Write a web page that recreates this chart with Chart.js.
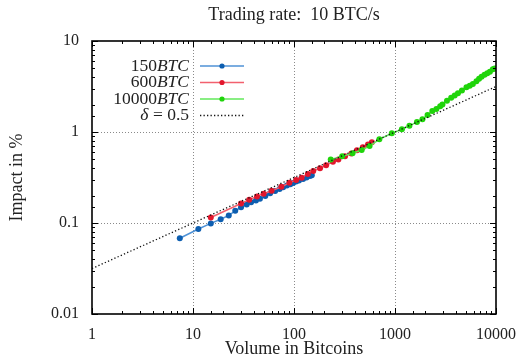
<!DOCTYPE html>
<html>
<head>
<meta charset="utf-8">
<script src="https://cdn.jsdelivr.net/npm/chart.js@4"></script>
<style>
  html, body { margin: 0; padding: 0; background: #fff; }
</style>
</head>
<body>
<canvas id="grafica" width="522" height="363"></canvas>
<script>
// Datos (volumen en BTC, impacto en %)
const vol150 = [7.4, 11.3, 15, 18.8, 22.6, 26.2, 29.9, 34, 37.6, 42, 46, 52, 58, 65, 72, 78, 85, 92, 98, 105, 112, 123, 133, 144, 150];
const imp150 = [0.068, 0.086, 0.099, 0.11, 0.121, 0.136, 0.149, 0.16, 0.169, 0.177, 0.185, 0.198, 0.212, 0.225, 0.237, 0.247, 0.258, 0.267, 0.275, 0.285, 0.293, 0.305, 0.316, 0.328, 0.335];

const vol600 = [15, 29.9, 36, 43, 50, 60, 75, 90, 105, 119, 137, 155, 181, 208, 243, 275, 320, 370, 420, 480, 540, 590];
const imp600 = [0.115, 0.164, 0.18, 0.196, 0.21, 0.226, 0.25, 0.277, 0.297, 0.315, 0.346, 0.373, 0.40, 0.43, 0.47, 0.50, 0.54, 0.58, 0.63, 0.68, 0.73, 0.77];

const vol10000 = [231, 300, 380, 468, 560, 700, 930, 1170, 1390, 1650, 1870, 2100, 2340, 2570, 2800, 2950, 3270, 3600, 3900, 4200, 4600, 5100, 5500, 5900, 6400, 6800, 7200, 7700, 8200, 8700, 9300, 9700];
const imp10000 = [0.50, 0.54, 0.585, 0.634, 0.70, 0.83, 0.97, 1.07, 1.17, 1.29, 1.38, 1.54, 1.70, 1.79, 1.92, 2.01, 2.21, 2.38, 2.52, 2.67, 2.86, 3.10, 3.22, 3.37, 3.62, 3.85, 4.05, 4.25, 4.42, 4.60, 4.90, 5.00];

// recta delta = 0.5
const volDelta = [1, 10000];
const impDelta = [0.0316, 3.16];

const xTickLabels = ['1', '10', '100', '1000', '10000'];
const yTickLabels = ['0.01', '0.1', '1', '10'];

const serif = "'Liberation Serif', 'DejaVu Serif', serif";

function puntos(xs, ys) {
  return xs.map((x, i) => ({ x: x, y: ys[i] }));
}

function esMayor(v) {
  const l = Math.log10(v);
  return Math.abs(l - Math.round(l)) < 1e-6;
}

function etiqueta(v, lista) {
  if (!esMayor(v)) return '';
  const s = lista.find(t => Math.abs(parseFloat(t) - v) < 1e-9 * Math.max(1, v));
  return s || '';
}

// leyenda, marco, rejilla, titulos
const marcoPlugin = {
  id: 'marco',
  beforeDatasetsDraw(chart) {
    const { ctx, chartArea: a, scales } = chart;
    ctx.save();
    ctx.strokeStyle = '#8a8a8a';
    ctx.lineWidth = 1;
    ctx.setLineDash([1, 2]);
    scales.x.ticks.forEach(t => {
      if (!esMayor(t.value)) return;
      const px = Math.round(scales.x.getPixelForValue(t.value)) + 0.5;
      if (px <= a.left + 1 || px >= a.right - 1) return;
      ctx.beginPath(); ctx.moveTo(px, a.top); ctx.lineTo(px, a.bottom); ctx.stroke();
    });
    scales.y.ticks.forEach(t => {
      if (!esMayor(t.value)) return;
      const py = Math.round(scales.y.getPixelForValue(t.value)) + 0.5;
      if (py <= a.top + 1 || py >= a.bottom - 1) return;
      ctx.beginPath(); ctx.moveTo(a.left, py); ctx.lineTo(a.right, py); ctx.stroke();
    });
    ctx.restore();
  },
  afterDatasetsDraw(chart) {
    const { ctx, chartArea: a, scales } = chart;
    ctx.save();
    ctx.strokeStyle = '#000';
    ctx.lineWidth = 1;
    scales.x.ticks.forEach(t => {
      const px = Math.round(scales.x.getPixelForValue(t.value)) + 0.5;
      const len = esMayor(t.value) ? 6 : 3;
      ctx.beginPath();
      ctx.moveTo(px, a.bottom); ctx.lineTo(px, a.bottom - len);
      ctx.moveTo(px, a.top); ctx.lineTo(px, a.top + len);
      ctx.stroke();
    });
    scales.y.ticks.forEach(t => {
      const py = Math.round(scales.y.getPixelForValue(t.value)) + 0.5;
      const len = esMayor(t.value) ? 6 : 3;
      ctx.beginPath();
      ctx.moveTo(a.left, py); ctx.lineTo(a.left + len, py);
      ctx.moveTo(a.right, py); ctx.lineTo(a.right - len, py);
      ctx.stroke();
    });
    ctx.lineWidth = 1.6;
    ctx.strokeRect(a.left, a.top, a.right - a.left, a.bottom - a.top);
    ctx.restore();
  },
  afterDraw(chart) {
    const { ctx, chartArea: a } = chart;
    ctx.save();
    ctx.fillStyle = '#222';
    ctx.textBaseline = 'middle';
    ctx.textAlign = 'center';
    ctx.font = '18px ' + serif;
    ctx.fillText('Trading rate:  10 BTC/s', (a.left + a.right) / 2, 15);
    ctx.fillText('Volume in Bitcoins', (a.left + a.right) / 2, 349);
    ctx.translate(17, (a.top + a.bottom) / 2);
    ctx.rotate(-Math.PI / 2);
    ctx.fillText('Impact in %', 0, 0);
    ctx.restore();

    // leyenda
    const filas = [
      { num: '150', ital: 'BTC', ds: 0 },
      { num: '600', ital: 'BTC', ds: 1 },
      { num: '10000', ital: 'BTC', ds: 2 },
      { num: null, ital: 'δ', rest: ' = 0.5', ds: 3 }
    ];
    const fs = '17.5px ';
    const xr = 189, x0 = 200, x1 = 244;
    const ys = [66, 82.5, 99, 115.5];
    ctx.save();
    ctx.textBaseline = 'middle';
    filas.forEach((f, i) => {
      const y = ys[i];
      const ds = chart.data.datasets[f.ds];
      ctx.fillStyle = '#222';
      ctx.textAlign = 'left';
      if (f.num !== null) {
        ctx.font = 'italic ' + fs + serif;
        const wi = ctx.measureText(f.ital).width;
        ctx.font = fs + serif;
        const wn = ctx.measureText(f.num).width;
        ctx.fillText(f.num, xr - wi - wn, y);
        ctx.font = 'italic ' + fs + serif;
        ctx.fillText(f.ital, xr - wi, y);
      } else {
        ctx.font = fs + serif;
        const wr = ctx.measureText(f.rest).width;
        ctx.font = 'italic ' + fs + serif;
        const wi = ctx.measureText(f.ital).width;
        ctx.fillText(f.ital, xr - wr - wi, y);
        ctx.font = fs + serif;
        ctx.fillText(f.rest, xr - wr, y);
      }
      ctx.strokeStyle = ds.borderColor;
      ctx.lineWidth = ds.borderWidth;
      ctx.setLineDash(ds.borderDash || []);
      ctx.beginPath(); ctx.moveTo(x0, y); ctx.lineTo(x1, y); ctx.stroke();
      ctx.setLineDash([]);
      if (ds.pointRadius > 0) {
        ctx.fillStyle = ds.pointBackgroundColor;
        ctx.beginPath(); ctx.arc((x0 + x1) / 2, y, 2.6, 0, Math.PI * 2); ctx.fill();
      }
    });
    ctx.restore();
  }
};

const ctx = document.getElementById('grafica').getContext('2d');
const chart = new Chart(ctx, {
  type: 'line',
  data: {
    datasets: [
      {
        label: '150BTC',
        data: puntos(vol150, imp150),
        borderColor: '#4f92d6',
        borderWidth: 1.5,
        pointRadius: 3,
        pointBackgroundColor: '#0d5eb0',
        pointBorderWidth: 0,
        order: 3
      },
      {
        label: '600BTC',
        data: puntos(vol600, imp600),
        borderColor: '#f2606e',
        borderWidth: 1.5,
        pointRadius: 3,
        pointBackgroundColor: '#e2162c',
        pointBorderWidth: 0,
        order: 2
      },
      {
        label: '10000BTC',
        data: puntos(vol10000, imp10000),
        borderColor: '#62e85a',
        borderWidth: 1.5,
        pointRadius: 3,
        pointBackgroundColor: '#1fd40a',
        pointBorderWidth: 0,
        order: 1
      },
      {
        label: 'delta = 0.5',
        data: puntos(volDelta, impDelta),
        borderColor: '#111',
        borderWidth: 1.3,
        borderDash: [1.3, 2.2],
        pointRadius: 0,
        order: 0
      }
    ]
  },
  options: {
    responsive: false,
    animation: false,
    layout: { padding: { top: 41, right: 26, left: 0, bottom: 0 } },
    scales: {
      x: {
        type: 'logarithmic',
        min: 1,
        max: 10000,
        grid: { display: false },
        border: { display: false },
        afterFit(scale) { scale.height = 49; },
        ticks: {
          autoSkip: false,
          maxRotation: 0,
          padding: 3,
          color: '#222',
          font: { family: serif, size: 16 },
          callback: v => etiqueta(v, xTickLabels)
        }
      },
      y: {
        type: 'logarithmic',
        min: 0.01,
        max: 10,
        grid: { display: false },
        border: { display: false },
        afterFit(scale) { scale.width = 92; },
        ticks: {
          autoSkip: false,
          padding: 5,
          color: '#222',
          font: { family: serif, size: 16 },
          callback: v => etiqueta(v, yTickLabels)
        }
      }
    },
    plugins: {
      legend: { display: false },
      tooltip: { enabled: false }
    }
  },
  plugins: [marcoPlugin]
});
</script>
</body>
</html>
